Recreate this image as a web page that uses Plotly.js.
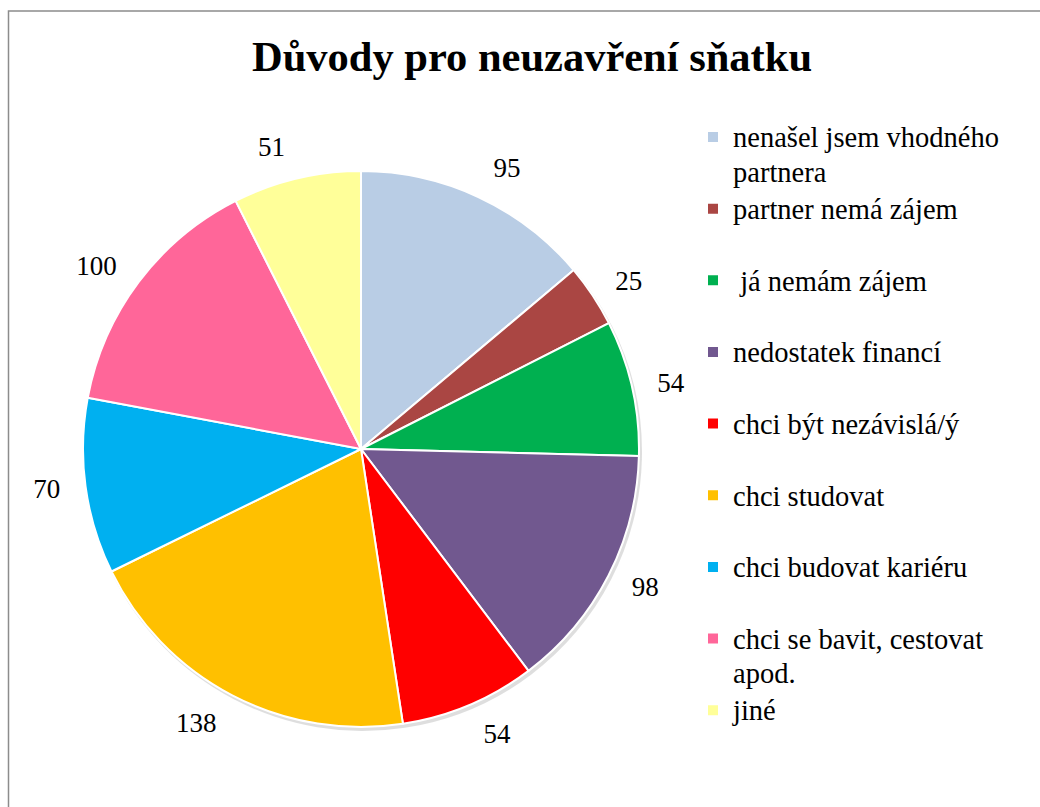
<!DOCTYPE html>
<html>
<head>
<meta charset="utf-8">
<script src="https://cdn.plot.ly/plotly-3.0.1.min.js"></script>
<style>
  html, body { margin: 0; padding: 0; background: #ffffff; }
  #chart { width: 1040px; height: 807px; }
</style>
</head>
<body>
<div id="chart"></div>
<script>
// ---- data ----
const categories = [
  "nenašel jsem vhodného<br>partnera",
  "partner nemá zájem",
  "\u00a0já nemám zájem",
  "nedostatek financí",
  "chci být nezávislá/ý",
  "chci studovat",
  "chci budovat kariéru",
  "chci se bavit, cestovat<br>apod.",
  "jiné"
];
const values = [95, 25, 54, 98, 54, 138, 70, 100, 51];
const colors = [
  "#B9CDE5", "#AA4643", "#00B050", "#71588F", "#FF0000",
  "#FFC000", "#00B0F0", "#FF6699", "#FFFF99"
];
const chartTitle = "Důvody pro neuzavření sňatku";

// ---- presentation ----
const W = 1040, H = 807;
const serif = "Liberation Serif";

// legend labels: every item occupies two lines (like the reference spacing)
const legendLabels = categories.map(c => {
  let lines = c.split("<br>");
  if (lines.length < 2) lines.push(" ");
  return lines.map(l => '<span style="font-size:28.5px">' + l + '</span>').join("<br>");
});

const cx = 361, cy = 449, r = 278, rLabel = 296;
function dom(x0, y0, rad) {
  return {
    x: [(x0 - rad) / W, (x0 + rad) / W],
    y: [(H - (y0 + rad)) / H, (H - (y0 - rad)) / H]
  };
}

// soft drop shadow under the pie
const shadowTrace = {
  type: "pie",
  labels: categories.map(c => "s:" + c),
  values: values,
  sort: false,
  direction: "clockwise",
  marker: { colors: values.map(() => "rgba(0,0,0,0.13)"), line: { width: 0 } },
  textinfo: "none",
  hoverinfo: "skip",
  showlegend: false,
  domain: dom(cx + 2, cy + 3, r + 1)
};

// transparent companion pie that only carries the value labels a bit further out
const labelTrace = {
  type: "pie",
  labels: categories.map(c => "v:" + c),
  values: values,
  sort: false,
  direction: "clockwise",
  rotation: 0,
  marker: { colors: values.map(() => "rgba(0,0,0,0)"), line: { width: 0 } },
  textinfo: "value",
  textposition: "outside",
  textfont: { family: serif, size: 27, color: "#000000" },
  outsidetextfont: { family: serif, size: 27, color: "#000000" },
  hoverinfo: "skip",
  showlegend: false,
  domain: dom(cx, cy, rLabel)
};

const trace = {
  type: "pie",
  labels: legendLabels,
  values: values,
  sort: false,
  direction: "clockwise",
  rotation: 0,
  marker: { colors: colors, line: { color: "#ffffff", width: 2 } },
  textinfo: "none",
  hoverinfo: "value+percent",
  domain: dom(cx, cy, r)
};

const layout = {
  width: W,
  height: H,
  margin: { l: 0, r: 0, t: 0, b: 0 },
  paper_bgcolor: "#ffffff",
  font: { family: serif, color: "#000000" },
  title: {
    text: "<b>" + chartTitle + "</b>",
    font: { family: serif, size: 42.5, color: "#000000" },
    x: 532 / W,
    xanchor: "center",
    xref: "container",
    y: 1 - 70.7 / H,
    yanchor: "bottom",
    yref: "container"
  },
  showlegend: true,
  legend: {
    x: 693 / W,
    xanchor: "left",
    y: 1 - 113.4 / H,
    yanchor: "top",
    valign: "top",
    bgcolor: "rgba(0,0,0,0)",
    borderwidth: 0,
    font: { family: serif, size: 26.4, color: "#000000" }
  },
  shapes: [{
    type: "rect",
    xref: "paper", yref: "paper",
    x0: 8.5 / W, x1: 1.05,
    y0: -0.05, y1: 1 - 11 / H,
    line: { color: "#8c8c8c", width: 1.5 },
    fillcolor: "rgba(0,0,0,0)",
    layer: "below"
  }]
};

Plotly.newPlot("chart", [shadowTrace, labelTrace, trace], layout, { displayModeBar: false, responsive: false });
</script>
</body>
</html>
